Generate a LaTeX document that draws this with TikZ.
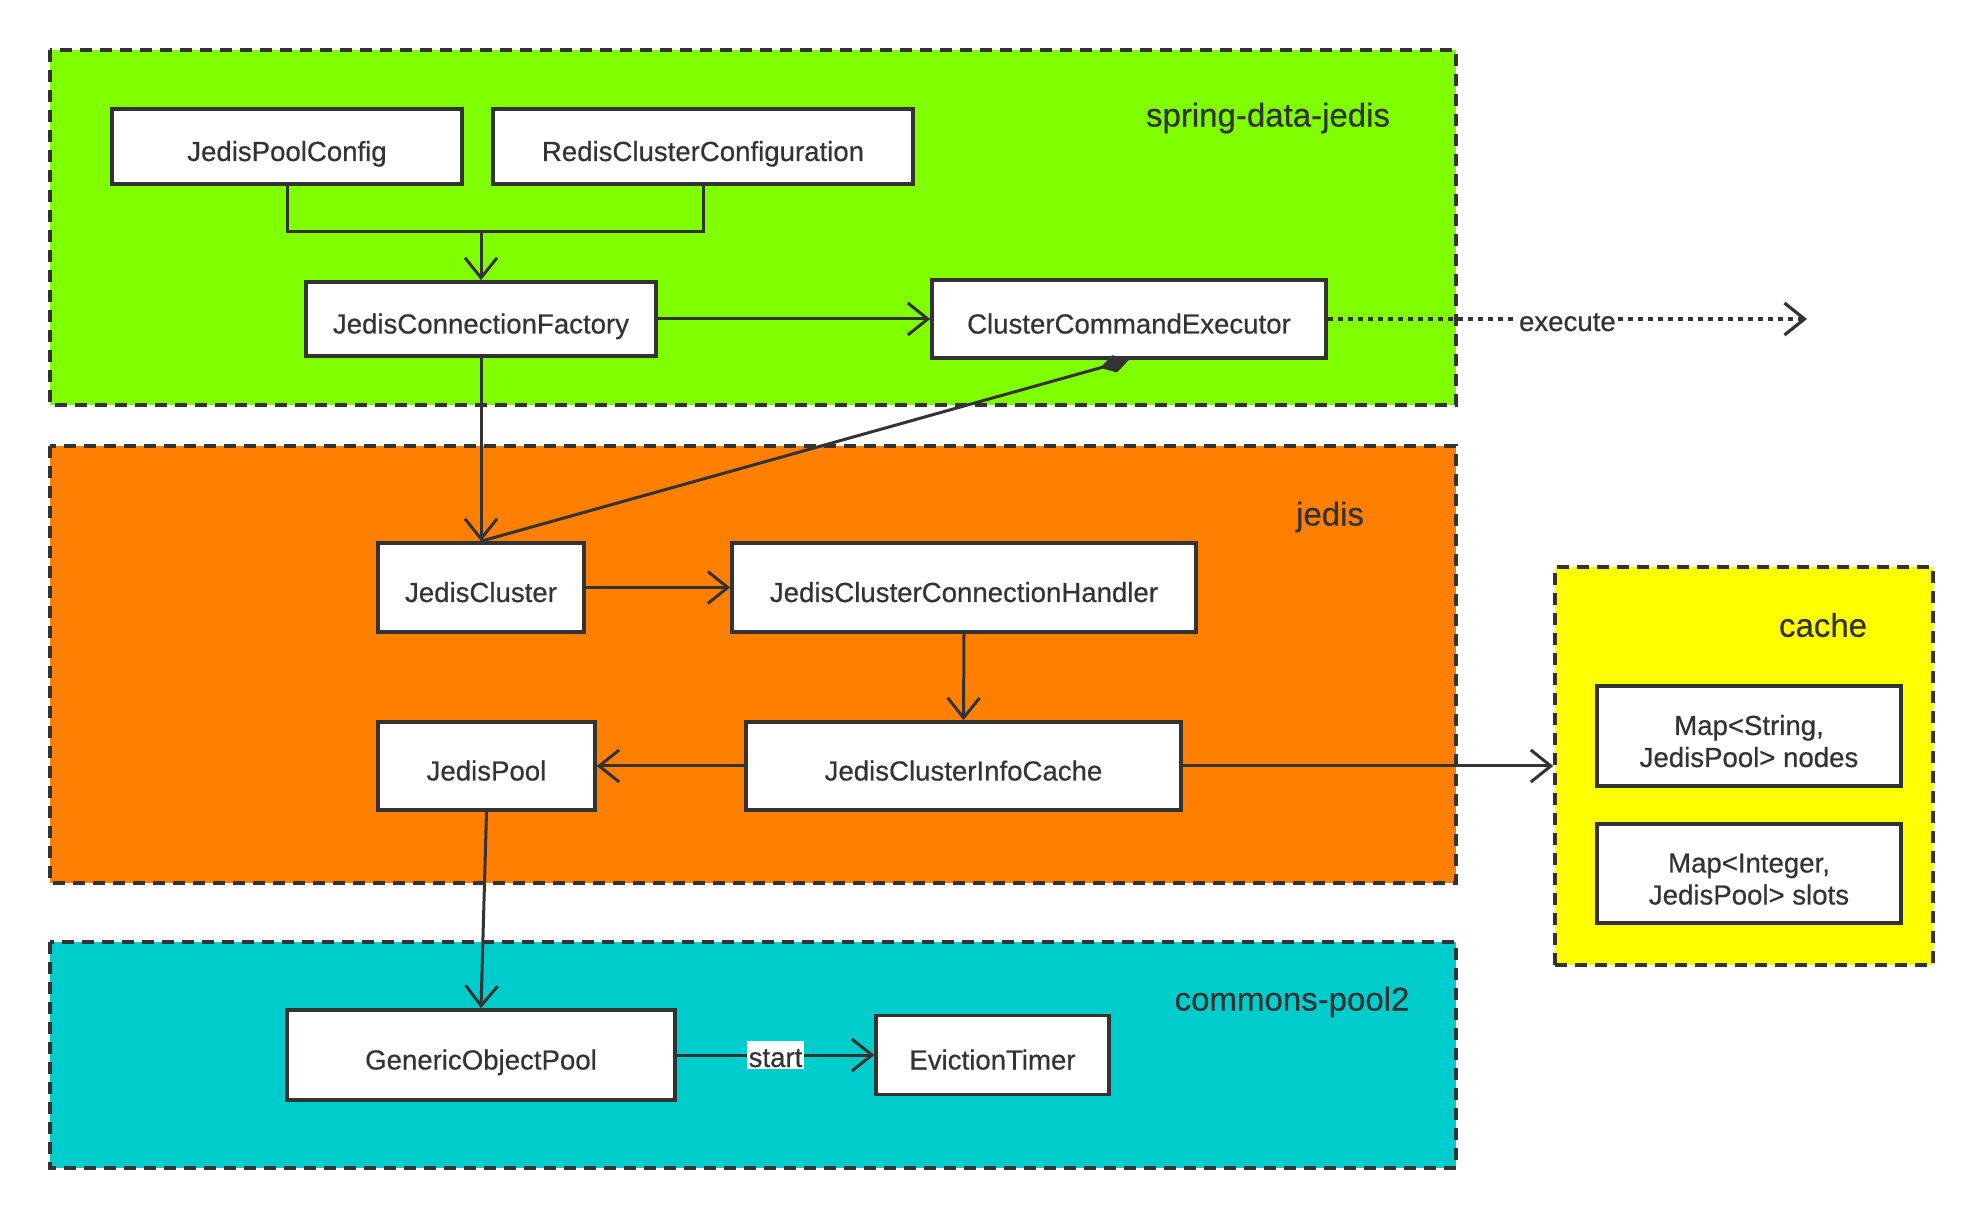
\documentclass[tikz,border=0pt]{standalone}
\usepackage{fontspec}
\setmainfont{Liberation Sans}[FakeBold=0.5]
\usetikzlibrary{arrows.meta}
\definecolor{ink}{HTML}{333333}
\definecolor{springgreen}{HTML}{80FF00}
\definecolor{jedisorange}{HTML}{FF8000}
\definecolor{poolcyan}{HTML}{00CCCC}
\definecolor{cacheyellow}{HTML}{FFFF00}
\begin{document}
\begin{tikzpicture}[x=0.5pt,y=-0.5pt,
  region/.style={draw=ink,line width=1.8pt,dash pattern=on 6pt off 4pt},
  cls/.style={draw=ink,fill=white,line width=1.8pt,inner sep=0pt,
    text=ink,font=\fontsize{13.8}{16}\selectfont,align=center,
    text height=15pt,text depth=0.5pt},
  twoline/.style={text height=31pt,text depth=0pt},
  grouplabel/.style={text=ink,font=\fontsize{16.5}{19}\selectfont},
  link/.style={draw=ink,line width=1.5pt},
  arr/.style={link,-{Straight Barb[length=10pt,width=16pt]}},
  tag/.style={fill=white,inner sep=1pt,text=ink,font=\fontsize{13.8}{16}\selectfont,
    text height=12pt,text depth=0pt}
]
\useasboundingbox (0,0) rectangle (1982,1218);

% package regions
\fill[springgreen] (50,50) rectangle (1456,405);
\draw[region] (50,50) rectangle (1456,405);
\fill[jedisorange] (50,446) rectangle (1456,883);
\draw[region] (50,446) rectangle (1456,883);
\fill[poolcyan] (50,942) rectangle (1456,1168);
\draw[region] (50,942) rectangle (1456,1168);
\fill[cacheyellow] (1555,567) rectangle (1933,965);
\node[region,fill=none,minimum width=189pt,minimum height=199pt,inner sep=0pt] (cache) at (1744,766) {};

\node[grouplabel] (lblspring) at (1268,118) {spring-data-jedis};
\node[grouplabel] (lbljedis) at (1330,517) {jedis};
\node[grouplabel] (lblpool) at (1292,1002) {commons-pool2};
\node[grouplabel] (lblcache) at (1823,625) {cache};

% classes
\node[cls,minimum width=175pt,minimum height=37.5pt] (jpc) at (287,146.5) {JedisPoolConfig};
\node[cls,minimum width=210pt,minimum height=37.5pt] (rcc) at (703,146.5) {RedisClusterConfiguration};
\node[cls,minimum width=175pt,minimum height=37pt] (jcf) at (481,319) {JedisConnectionFactory};
\node[cls,minimum width=197pt,minimum height=39pt] (cce) at (1129,319) {ClusterCommandExecutor};
\node[cls,minimum width=103pt,minimum height=44.5pt] (jc) at (481,587.5) {JedisCluster};
\node[cls,minimum width=232pt,minimum height=44.5pt] (jcch) at (964,587.5) {JedisClusterConnectionHandler};
\node[cls,minimum width=108.5pt,minimum height=44pt] (jp) at (486.5,766) {JedisPool};
\node[cls,minimum width=217.5pt,minimum height=44pt] (jcic) at (963.5,766) {JedisClusterInfoCache};
\node[cls,minimum width=194pt,minimum height=45pt] (gop) at (481,1055) {GenericObjectPool};
\node[cls,minimum width=116.5pt,minimum height=39.5pt] (et) at (992.5,1055) {EvictionTimer};
\node[cls,twoline,minimum width=152pt,minimum height=50pt] (mapnodes) at (1749,736) {Map<String,\\JedisPool> nodes};
\node[cls,twoline,minimum width=152pt,minimum height=49.5pt] (mapslots) at (1749,873.5) {Map<Integer,\\JedisPool> slots};

% connectors
\coordinate (merge) at (481,232);
\coordinate (execend) at (1807,319);
\draw[link] (jpc.south) |- (merge -| rcc.south) -- (rcc.south);
\draw[arr] (merge) -- (jcf.north);
\draw[arr] (jcf.east) -- (cce.west);
\draw[arr,line width=1.6pt,dash pattern=on 2.5pt off 2.5pt] (cce.east) -- node[tag]{execute} (execend);
\draw[arr] (jcf.south) -- (jc.north);
\draw[link,{Diamond[length=15pt,width=9pt]}-] (cce.south) -- (jc.north);
\draw[arr] (jc.east) -- (jcch.west);
\draw[arr] (jcch.south) -- (jcic.north);
\draw[arr] (jcic.west) -- (jp.east);
\draw[arr] (jcic.east) -- (jcic.east -| cache.west);
\draw[arr] (jp.south) -- (gop.north);
\draw[arr] (gop.east) -- node[tag]{start} (et.west);
\end{tikzpicture}
\end{document}
